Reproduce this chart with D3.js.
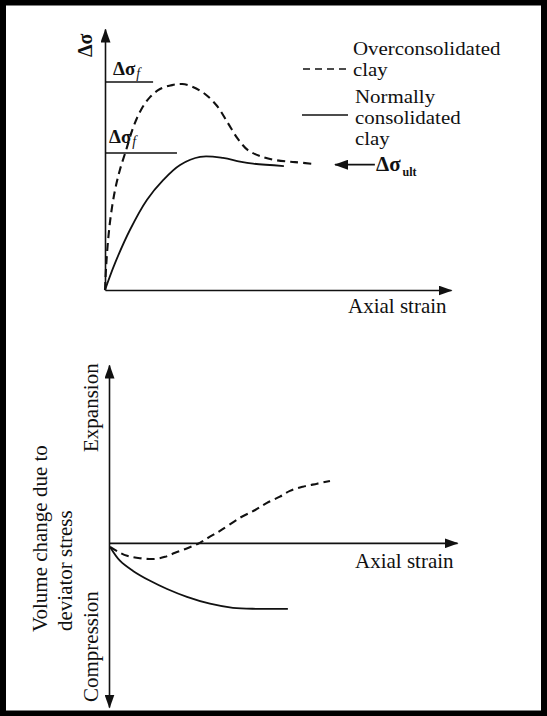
<!DOCTYPE html>
<html>
<head>
<meta charset="utf-8">
<script src="https://cdn.jsdelivr.net/npm/d3@7"></script>
<style>
  html, body { margin: 0; padding: 0; background: #fff; }
  svg { display: block; }
  text { font-family: "Liberation Serif", "Times New Roman", serif; fill: #111; }
</style>
</head>
<body>
<svg id="fig" width="547" height="716"></svg>
<script>
// Stress–strain curves (top panel): axial strain vs deviator stress, arbitrary units
const ncStrain = [0, 0.29, 0.72, 1.21, 1.68, 2.17, 2.75, 3.41, 3.90, 4.28, 5.17];
const ncStress = [0, 1.03, 2.30, 3.45, 4.21, 4.79, 5.10, 5.06, 4.92, 4.84, 4.75];

const ocStrain = [0, 0.03, 0.09, 0.17, 0.29, 0.43, 0.61, 0.81, 1.04, 1.30, 1.59, 1.94, 2.23, 2.54, 2.89, 3.24, 3.55, 3.84, 4.13, 4.48, 4.91, 5.49, 6.04];
const ocStress = [0, 0.84, 1.92, 2.87, 3.83, 4.60, 5.36, 6.21, 6.90, 7.39, 7.70, 7.85, 7.89, 7.78, 7.51, 7.05, 6.40, 5.79, 5.36, 5.13, 4.98, 4.90, 4.83];

// Peak (failure) stress levels and their marker lengths in strain units
const failStress = [7.97, 5.25];
const failLineEnd = [1.39, 2.08];
const ultStress = 4.8;

// Volume change curves (bottom panel): axial strain vs volume change (+ expansion)
const ncVolStrain = [0.03, 0.32, 0.69, 1.18, 1.67, 2.24, 2.90, 3.56, 4.25, 5.14];
const ncVol       = [-0.12, -0.53, -0.82, -1.11, -1.35, -1.58, -1.78, -1.90, -1.93, -1.93];

const ocVolStrain = [0.03, 0.26, 0.52, 0.89, 1.32, 1.61, 1.90, 2.27, 2.61, 2.90, 3.19, 3.76, 4.20, 4.54, 4.91, 5.20, 5.57, 5.98, 6.35];
const ocVol       = [-0.12, -0.26, -0.38, -0.45, -0.47, -0.41, -0.29, -0.15, 0, 0.18, 0.35, 0.73, 0.96, 1.17, 1.35, 1.52, 1.64, 1.73, 1.81];

const legendLabels = [["Overconsolidated", "clay"], ["Normally", "consolidated", "clay"]];

const svg = d3.select("#fig");
const INK = "#111";

// frame
svg.append("rect").attr("x", 3).attr("y", 2.5).attr("width", 541).attr("height", 711)
  .attr("fill", "none").attr("stroke", "#000").attr("stroke-width", 6);

// arrowhead marker
const defs = svg.append("defs");
defs.append("marker")
  .attr("id", "arrow").attr("viewBox", "0 0 14 10")
  .attr("refX", 13).attr("refY", 5)
  .attr("markerWidth", 14).attr("markerHeight", 10)
  .attr("markerUnits", "userSpaceOnUse")
  .attr("orient", "auto-start-reverse")
  .append("path").attr("d", "M0,0L14,5L0,10Z").attr("fill", INK);

function styleAxis(g, both) {
  g.select(".domain")
    .attr("stroke", INK).attr("stroke-width", 1.6)
    .attr("marker-end", "url(#arrow)");
  if (both) g.select(".domain").attr("marker-start", "url(#arrow)");
  g.selectAll(".tick").remove();
}

// ---------- top panel ----------
const xTop = d3.scaleLinear().domain([0, 10]).range([105, 451]);
const yTop = d3.scaleLinear().domain([0, 10]).range([290, 29]);

svg.append("g").attr("transform", `translate(0,${yTop(0)})`)
  .call(d3.axisBottom(xTop).ticks(0).tickSizeOuter(0)).call(g => styleAxis(g, false));
svg.append("g").attr("transform", `translate(${xTop(0)},0)`)
  .call(d3.axisLeft(yTop).ticks(0).tickSizeOuter(0)).call(g => styleAxis(g, false));

const curve = d3.curveCatmullRom.alpha(0.5);
const lineTop = d3.line().x(d => xTop(d[0])).y(d => yTop(d[1])).curve(curve);

svg.append("path").datum(d3.zip(ncStrain, ncStress))
  .attr("d", lineTop).attr("fill", "none").attr("stroke", INK).attr("stroke-width", 1.8);
svg.append("path").datum(d3.zip(ocStrain, ocStress))
  .attr("d", lineTop).attr("fill", "none").attr("stroke", INK).attr("stroke-width", 2.1)
  .attr("stroke-dasharray", "8,5");

// failure stress levels
failStress.forEach((s, i) => {
  svg.append("line")
    .attr("x1", xTop(0)).attr("x2", xTop(failLineEnd[i]))
    .attr("y1", yTop(s)).attr("y2", yTop(s))
    .attr("stroke", INK).attr("stroke-width", 1.6);
});
const failLabelPos = [[113, 75], [109, 143]];
failLabelPos.forEach(([x, y]) => {
  const t = svg.append("text").attr("x", x).attr("y", y).attr("font-size", 19).attr("font-weight", "bold");
  t.append("tspan").text("Δσ");
  t.append("tspan").attr("dx", 1).attr("dy", 3).attr("font-size", 14)
    .attr("font-style", "italic").attr("font-weight", "normal").text("f");
});

// ultimate stress arrow
svg.append("line")
  .attr("x1", xTop(7.80)).attr("x2", xTop(6.65))
  .attr("y1", yTop(ultStress)).attr("y2", yTop(ultStress))
  .attr("stroke", INK).attr("stroke-width", 1.8).attr("marker-end", "url(#arrow)");
const ult = svg.append("text").attr("x", 376).attr("y", 171).attr("font-size", 21).attr("font-weight", "bold");
ult.append("tspan").text("Δσ");
ult.append("tspan").attr("dx", 2).attr("dy", 5).attr("font-size", 12).text("ult");

// vertical axis label
svg.append("text").attr("transform", "translate(92,57) rotate(-90)")
  .attr("font-size", 20).attr("font-weight", "bold").text("Δσ");

// horizontal axis label
svg.append("text").attr("x", 348).attr("y", 313).attr("font-size", 21).text("Axial strain");

// legend: samples and slightly widened, tightly stacked labels
svg.append("line").attr("x1", 303).attr("x2", 348).attr("y1", 69).attr("y2", 69)
  .attr("stroke", INK).attr("stroke-width", 1.6).attr("stroke-dasharray", "7,5");
svg.append("line").attr("x1", 302).attr("x2", 348).attr("y1", 115).attr("y2", 115)
  .attr("stroke", INK).attr("stroke-width", 1.6);
const legendBase = [[353, 54.5], [355, 102.5]];
const legendStep = 21.2;
const legendStretch = 1.1;
legendLabels.forEach((lines, i) => {
  lines.forEach((s, j) => {
    const t = svg.append("text")
      .attr("x", legendBase[i][0]).attr("y", legendBase[i][1] + j * legendStep)
      .attr("font-size", 19).text(s);
    const len = t.node().getComputedTextLength();
    t.attr("textLength", len * legendStretch).attr("lengthAdjust", "spacingAndGlyphs");
  });
});

// ---------- bottom panel ----------
const xBot = d3.scaleLinear().domain([0, 10]).range([109, 457]);
const yBot = d3.scaleLinear().domain([-4.8, 5.2]).range([707, 365]);

svg.append("g").attr("transform", `translate(0,${yBot(0)})`)
  .call(d3.axisBottom(xBot).ticks(0).tickSizeOuter(0)).call(g => styleAxis(g, false));
svg.append("g").attr("transform", `translate(${xBot(0)},0)`)
  .call(d3.axisLeft(yBot).ticks(0).tickSizeOuter(0)).call(g => styleAxis(g, true));

const lineBot = d3.line().x(d => xBot(d[0])).y(d => yBot(d[1])).curve(curve);
svg.append("path").datum(d3.zip(ncVolStrain, ncVol))
  .attr("d", lineBot).attr("fill", "none").attr("stroke", INK).attr("stroke-width", 1.8);
svg.append("path").datum(d3.zip(ocVolStrain, ocVol))
  .attr("d", lineBot).attr("fill", "none").attr("stroke", INK).attr("stroke-width", 2.1)
  .attr("stroke-dasharray", "8,5");

svg.append("text").attr("x", 355).attr("y", 568).attr("font-size", 21).text("Axial strain");

// rotated labels along the volume-change axis
const ylab = svg.append("text").attr("transform", "translate(47,632) rotate(-90)").attr("font-size", 21);
ylab.append("tspan").attr("x", 0).attr("y", 0).text("Volume change due to");
ylab.append("tspan").attr("x", 1).attr("dy", 25).text("deviator stress");

const rotLabels = [
  ["Expansion", 98, 452],
  ["Compression", 98, 702]
];
rotLabels.forEach(([t, x, y]) => {
  svg.append("text").attr("transform", `translate(${x},${y}) rotate(-90)`)
    .attr("font-size", 21).text(t);
});
</script>
</body>
</html>
